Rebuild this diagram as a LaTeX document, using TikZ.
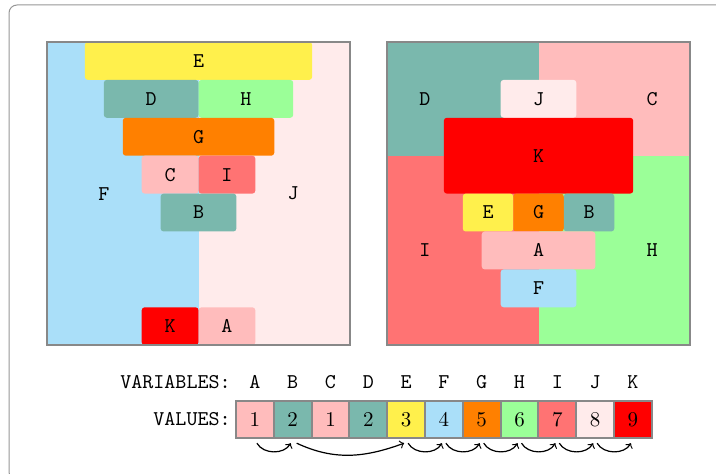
\documentclass[tikz,border=0pt]{standalone}
\usetikzlibrary{fit}
\definecolor{cBlue}{RGB}{170,223,249}
\definecolor{cPale}{RGB}{255,235,235}
\definecolor{cYellow}{RGB}{255,240,76}
\definecolor{cTeal}{RGB}{122,184,173}
\definecolor{cGreen}{RGB}{155,255,152}
\definecolor{cOrange}{RGB}{255,128,0}
\definecolor{cPink}{RGB}{255,188,188}
\definecolor{cSalmon}{RGB}{255,115,115}
\definecolor{cRed}{RGB}{255,0,0}
\definecolor{frameGray}{RGB}{136,136,136}
\definecolor{outerGray}{RGB}{150,150,150}

% one coloured block: name, colour, corners, text
\newcommand\blk[7]{\node[blk,fill=#2,fit={(#3,#4)(#5,#6)},label={[lbl]center:#7}] (#1) {};}
% one background region: name, colour, corners
\newcommand\rgn[6]{\node[rgn,fill=#2,fit={(#3,#4)(#5,#6)}] (#1) {};}

\begin{document}
\begin{tikzpicture}[x=0.5pt,y=0.5pt,font=\fontsize{10.5}{12}\selectfont\ttfamily,
  rgn/.style={inner sep=0pt,outer sep=0pt},
  blk/.style={inner sep=0pt,outer sep=0pt,rounded corners=1.5pt},
  lbl/.style={inner sep=0pt,font=\fontsize{10.5}{12}\selectfont\ttfamily},
  panel/.style={draw=frameGray,line width=1pt,inner sep=0pt},
  valcell/.style={draw=frameGray,line width=1pt,minimum width=18.9pt,
    minimum height=18.7pt,inner sep=0pt,outer ysep=2.5pt,
    font=\fontsize{10.5}{12}\selectfont\rmfamily},
  arr/.style={->,line width=0.6pt}]
\useasboundingbox (0,0) rectangle (716,-474);
\clip (0,0) rectangle (716,-474);

% outer rounded frame
\draw[outerGray,line width=0.5pt,rounded corners=4pt] (9,-5) rectangle (760,-480);

% left panel
\begin{scope}[xshift=23.5pt,yshift=-21pt,x=9.47pt,y=-18.95pt]
  \rgn{lFr}{cBlue}{0}{0}{8}{8}
  \rgn{lJr}{cPale}{8}{0}{16}{8}
  \node (lF) at (3,4) {F};
  \node (lJ) at (13,4) {J};
  \blk{lE}{cYellow}{2}{0}{14}{1}{E}
  \blk{lD}{cTeal}{3}{1}{8}{2}{D}
  \blk{lH}{cGreen}{8}{1}{13}{2}{H}
  \blk{lG}{cOrange}{4}{2}{12}{3}{G}
  \blk{lC}{cPink}{5}{3}{8}{4}{C}
  \blk{lI}{cSalmon}{8}{3}{11}{4}{I}
  \blk{lB}{cTeal}{6}{4}{10}{5}{B}
  \blk{lK}{cRed}{5}{7}{8}{8}{K}
  \blk{lA}{cPink}{8}{7}{11}{8}{A}
  \node[panel,fit={(0,0)(16,8)}] (lpanel) {};
\end{scope}

% right panel
\begin{scope}[xshift=193.5pt,yshift=-21pt,x=9.47pt,y=-18.95pt]
  \rgn{rDr}{cTeal}{0}{0}{8}{3}
  \rgn{rCr}{cPink}{8}{0}{16}{3}
  \rgn{rIr}{cSalmon}{0}{3}{8}{8}
  \rgn{rHr}{cGreen}{8}{3}{16}{8}
  \node (rD) at (2,1.5) {D};
  \node (rC) at (14,1.5) {C};
  \node (rI) at (2,5.5) {I};
  \node (rH) at (14,5.5) {H};
  \blk{rJ}{cPale}{6}{1}{10}{2}{J}
  \blk{rK}{cRed}{3}{2}{13}{4}{K}
  \blk{rE}{cYellow}{4}{4}{6.667}{5}{E}
  \blk{rG}{cOrange}{6.667}{4}{9.333}{5}{G}
  \blk{rB}{cTeal}{9.333}{4}{12}{5}{B}
  \blk{rA}{cPink}{5}{5}{11}{6}{A}
  \blk{rF}{cBlue}{6}{6}{10}{7}{F}
  \node[panel,fit={(0,0)(16,8)}] (rpanel) {};
\end{scope}

% variables and their values
\node[anchor=east,inner sep=0pt] (varlbl) at (231,-382) {VARIABLES:};
\node[anchor=east,inner sep=0pt] (vallbl) at (231,-419.5) {VALUES:};
\foreach \n/\c/\v [count=\i from 0] in
  {A/cPink/1,B/cTeal/2,C/cPink/1,D/cTeal/2,E/cYellow/3,F/cBlue/4,
   G/cOrange/5,H/cGreen/6,I/cSalmon/7,J/cPale/8,K/cRed/9}{
  \node[valcell,fill=\c] (v\n) at ({236+37.8*(\i+0.5)},-419.5) {\v};
  \node (n\n) at ({236+37.8*(\i+0.5)},-382) {\n};
}

% successor arrows
\draw[arr] ([xshift=1pt]vA.south) to[out=-60,in=-120] ([xshift=-1pt]vB.south);
\draw[arr] ([xshift=2pt]vB.south) to[out=-25,in=-160] ([xshift=-1pt]vE.south);
\foreach \a/\b in {E/F,F/G,G/H,H/I,I/J,J/K}{
  \draw[arr] ([xshift=1pt]v\a.south) to[out=-60,in=-120] ([xshift=-1pt]v\b.south);
}
\end{tikzpicture}
\end{document}
